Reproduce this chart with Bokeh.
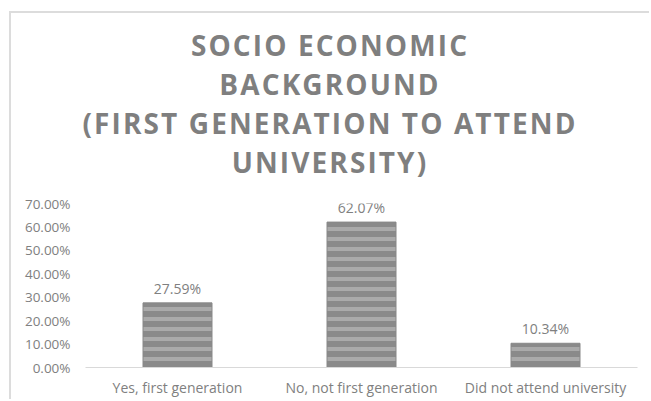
from bokeh.plotting import figure
from bokeh.models import ColumnDataSource, Range1d, NumeralTickFormatter, FactorRange, FixedTicker, Div
from bokeh.layouts import column
from bokeh.core.properties import value
from bokeh.embed import file_html
from bokeh.resources import INLINE

categories = ["Yes, first generation", "No, not first generation", "Did not attend university"]
shares = [0.2759, 0.6207, 0.1034]
share_labels = ["27.59%", "62.07%", "10.34%"]
title_lines = ["SOCIO ECONOMIC", "BACKGROUND", "(FIRST GENERATION TO ATTEND", "UNIVERSITY)"]
y_ticks = [0.0, 0.1, 0.2, 0.3, 0.4, 0.5, 0.6, 0.7]

GRAY = "#808080"
FONT = "Open Sans"

source = ColumnDataSource(data=dict(cat=categories, share=shares, label=share_labels))

title_html = (
    "<div style=\"padding-top:13px; padding-left:4px; width:634px; text-align:center; "
    "font-family:'Open Sans'; font-weight:bold; font-size:28px; line-height:39px; "
    "letter-spacing:2.1px; color:#7f7f7f; white-space:nowrap;\">"
    + "<br>".join(title_lines) + "</div>"
)
title_div = Div(text=title_html, width=638, height=170, margin=0)

p = figure(
    x_range=FactorRange(factors=categories, range_padding=0),
    y_range=Range1d(0, 0.7),
    width=638, height=216,
    output_backend="svg", toolbar_location=None,
    min_border_left=74, min_border_right=12, min_border_bottom=32, min_border_top=20,
)
p.border_fill_color = None
p.background_fill_color = None

p.vbar(x="cat", top="share", width=0.375, source=source,
       fill_color="#8a8a8a", hatch_pattern="horizontal_line", hatch_color="#aaaaaa",
       hatch_scale=10, hatch_weight=4, line_color="#888888", line_width=1)

p.text(x="cat", y="share", text="label", source=source, text_align="center",
       text_baseline="bottom", y_offset=-5, text_font_size="14px",
       text_color=GRAY, text_font=value(FONT))

p.xgrid.visible = False
p.ygrid.visible = False
p.outline_line_color = None

p.yaxis.ticker = FixedTicker(ticks=y_ticks)
p.yaxis.formatter = NumeralTickFormatter(format="0.00%")
p.yaxis.axis_line_color = None
p.yaxis.major_tick_line_color = None
p.yaxis.minor_tick_line_color = None
p.yaxis.major_tick_out = 0
p.yaxis.major_tick_in = 0
p.yaxis.major_label_standoff = 15
p.yaxis.major_label_text_color = GRAY
p.yaxis.major_label_text_font = FONT
p.yaxis.major_label_text_font_size = "13.5px"

p.xaxis.axis_line_color = "#d9d9d9"
p.xaxis.major_tick_line_color = None
p.xaxis.major_tick_out = 0
p.xaxis.major_tick_in = 0
p.xaxis.major_label_standoff = 10
p.xaxis.major_label_text_color = GRAY
p.xaxis.major_label_text_font = FONT
p.xaxis.major_label_text_font_size = "14px"

layout = column(title_div, p, spacing=0)
layout.styles = {
    "margin-left": "9px", "margin-top": "11px",
    "border-left": "2px solid #dcdcdc", "border-top": "2px solid #dcdcdc",
}

open("out.html", "w").write(file_html(layout, INLINE))
